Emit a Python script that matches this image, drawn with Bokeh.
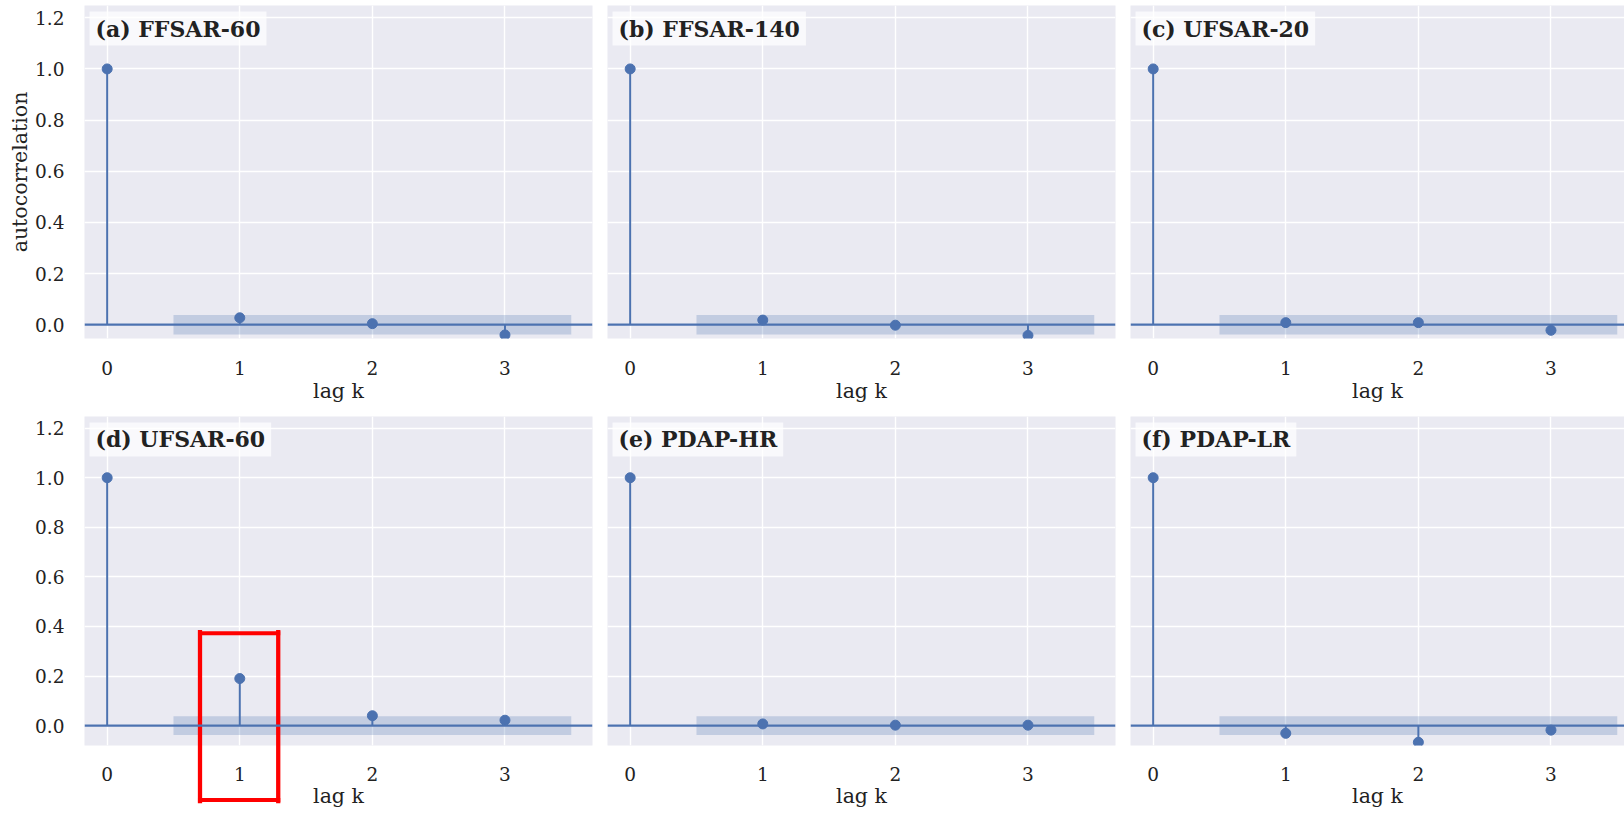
from bokeh.plotting import figure
from bokeh.layouts import column, row
from bokeh.models import Span, Label, FixedTicker, CustomJSTickFormatter
from bokeh.embed import file_html
from bokeh.resources import INLINE

# ---------------- data ----------------
lags = [0, 1, 2, 3]
titles = ["(a) FFSAR-60", "(b) FFSAR-140", "(c) UFSAR-20",
          "(d) UFSAR-60", "(e) PDAP-HR", "(f) PDAP-LR"]
acf_a = [1.0, 0.027, 0.004, -0.040]
acf_b = [1.0, 0.018, -0.002, -0.042]
acf_c = [1.0, 0.008, 0.008, -0.022]
acf_d = [1.0, 0.190, 0.040, 0.022]
acf_e = [1.0, 0.007, 0.002, 0.002]
acf_f = [1.0, -0.031, -0.067, -0.018]
band_x = [0.5, 3.5]
band_half = [0.038, 0.038, 0.038, 0.038, 0.038, 0.038]
y_ticks = [0.0, 0.2, 0.4, 0.6, 0.8, 1.0, 1.2]
x_ticks = [0, 1, 2, 3]
highlight = dict(panel=3, left=0.70, right=1.29, bottom=-0.30, top=0.373)

series = [acf_a, acf_b, acf_c, acf_d, acf_e, acf_f]

# ---------------- style ----------------
BLUE = "#4C72B0"
BG = "#EAEAF2"
TXT = "#222222"
FONT = "DejaVu Serif"
RED = "#FF0000"

FRAME_W = 508
X0 = -0.171
PX_PER_LAG = 132.6
# per row: (y range, frame height, top border, bottom border, tick standoff, label standoff)
rows_cfg = [((-0.054, 1.248), 333, 5, 78, 22, 1),
            ((-0.080, 1.247), 330, 0, 68, 21, 0)]


def bar_label(x, y, pad):
    """A filled box drawn as an empty Label so it can live outside the frame."""
    return Label(x=x, y=y, x_units="data", y_units="data",
                 text=" ", text_font_size="1px",
                 text_align="center", text_baseline="middle",
                 background_fill_color=RED, background_fill_alpha=1.0,
                 border_line_color=None, padding=pad)


def make_panel(i):
    r, c = divmod(i, 3)
    (y0, y1), fh, top_b, bottom_b, tick_so, lab_so = rows_cfg[r]
    px_per_unit = fh / (y1 - y0)
    left_b = 84 if c == 0 else 0
    right_b = 15 if c < 2 else 0
    fw = FRAME_W if c < 2 else 494
    x_end = X0 + fw / PX_PER_LAG
    p = figure(width=left_b + fw + right_b, height=top_b + fh + bottom_b,
               x_range=(X0, x_end), y_range=(y0, y1),
               output_backend="svg", toolbar_location=None,
               min_border_left=left_b, min_border_right=right_b,
               min_border_top=top_b, min_border_bottom=bottom_b)
    p.background_fill_color = BG
    p.border_fill_color = "white"
    p.outline_line_color = None

    # grid
    p.xgrid.ticker = FixedTicker(ticks=x_ticks)
    p.ygrid.ticker = FixedTicker(ticks=y_ticks)
    for g in (p.xgrid, p.ygrid):
        g.grid_line_color = "white"
        g.grid_line_width = 1.4

    # axes
    p.xaxis.ticker = FixedTicker(ticks=x_ticks)
    p.yaxis.ticker = FixedTicker(ticks=y_ticks)
    p.yaxis.formatter = CustomJSTickFormatter(code="return tick.toFixed(1);")
    for ax in (p.xaxis, p.yaxis):
        ax.axis_line_color = None
        ax.major_tick_line_color = None
        ax.minor_tick_line_color = None
        ax.major_tick_out = 0
        ax.major_tick_in = 0
        ax.major_label_text_font = FONT
        ax.major_label_text_font_size = "18.5px"
        ax.major_label_text_color = TXT
        ax.axis_label_text_font = FONT
        ax.axis_label_text_font_size = "20.5px"
        ax.axis_label_text_font_style = "normal"
        ax.axis_label_text_color = TXT
    p.xaxis.major_label_standoff = tick_so
    p.xaxis.axis_label = "lag k"
    p.xaxis.axis_label_standoff = lab_so
    p.yaxis.major_label_standoff = 20
    if c == 0:
        if r == 0:
            p.yaxis.axis_label = "autocorrelation"
            p.yaxis.axis_label_standoff = 0
    else:
        p.yaxis.visible = False

    vals = series[i]
    h = band_half[i]
    # confidence band
    p.varea(x=band_x, y1=[-h, -h], y2=[h, h], fill_color=BLUE, fill_alpha=0.25)
    # zero line
    p.add_layout(Span(location=0, dimension="width", line_color=BLUE, line_width=2.2))
    # stems and markers
    p.segment(x0=lags, y0=[0] * len(lags), x1=lags, y1=vals,
              line_color=BLUE, line_width=2)
    p.scatter(x=lags, y=vals, size=10, fill_color=BLUE, line_color=BLUE)

    # panel label box
    p.add_layout(Label(x=X0 + 5 / PX_PER_LAG, y=y1 - 6 / px_per_unit,
                       x_units="data", y_units="data",
                       text=titles[i], text_font=FONT, text_font_size="22px",
                       text_font_style="bold", text_color=TXT,
                       text_align="left", text_baseline="top",
                       background_fill_color="white", background_fill_alpha=0.72,
                       padding=dict(left=6, right=6, top=4, bottom=4)))

    if i == highlight["panel"]:
        hl = highlight
        cx = (hl["left"] + hl["right"]) / 2
        cy = (hl["top"] + hl["bottom"]) / 2
        half_w = int(round((hl["right"] - hl["left"]) * PX_PER_LAG / 2))
        half_h = int(round((hl["top"] - hl["bottom"]) * px_per_unit / 2))
        # top edge (inside the frame)
        p.segment(x0=[hl["left"]], y0=[hl["top"]], x1=[hl["right"]], y1=[hl["top"]],
                  line_color=RED, line_width=4, line_cap="square")
        # vertical edges (side-panel labels are not clipped to the frame)
        for xe in (hl["left"], hl["right"]):
            p.add_layout(bar_label(xe, cy, dict(left=2, right=2, top=half_h + 2,
                                                bottom=half_h + 2)), "right")
        # bottom edge
        p.add_layout(bar_label(cx, hl["bottom"], dict(left=half_w + 2, right=half_w + 2,
                                                      top=2, bottom=1)), "below")
    return p


panels = [make_panel(i) for i in range(6)]
layout = column(row(*panels[:3]), row(*panels[3:]))

open("out.html", "w").write(file_html(layout, INLINE))
